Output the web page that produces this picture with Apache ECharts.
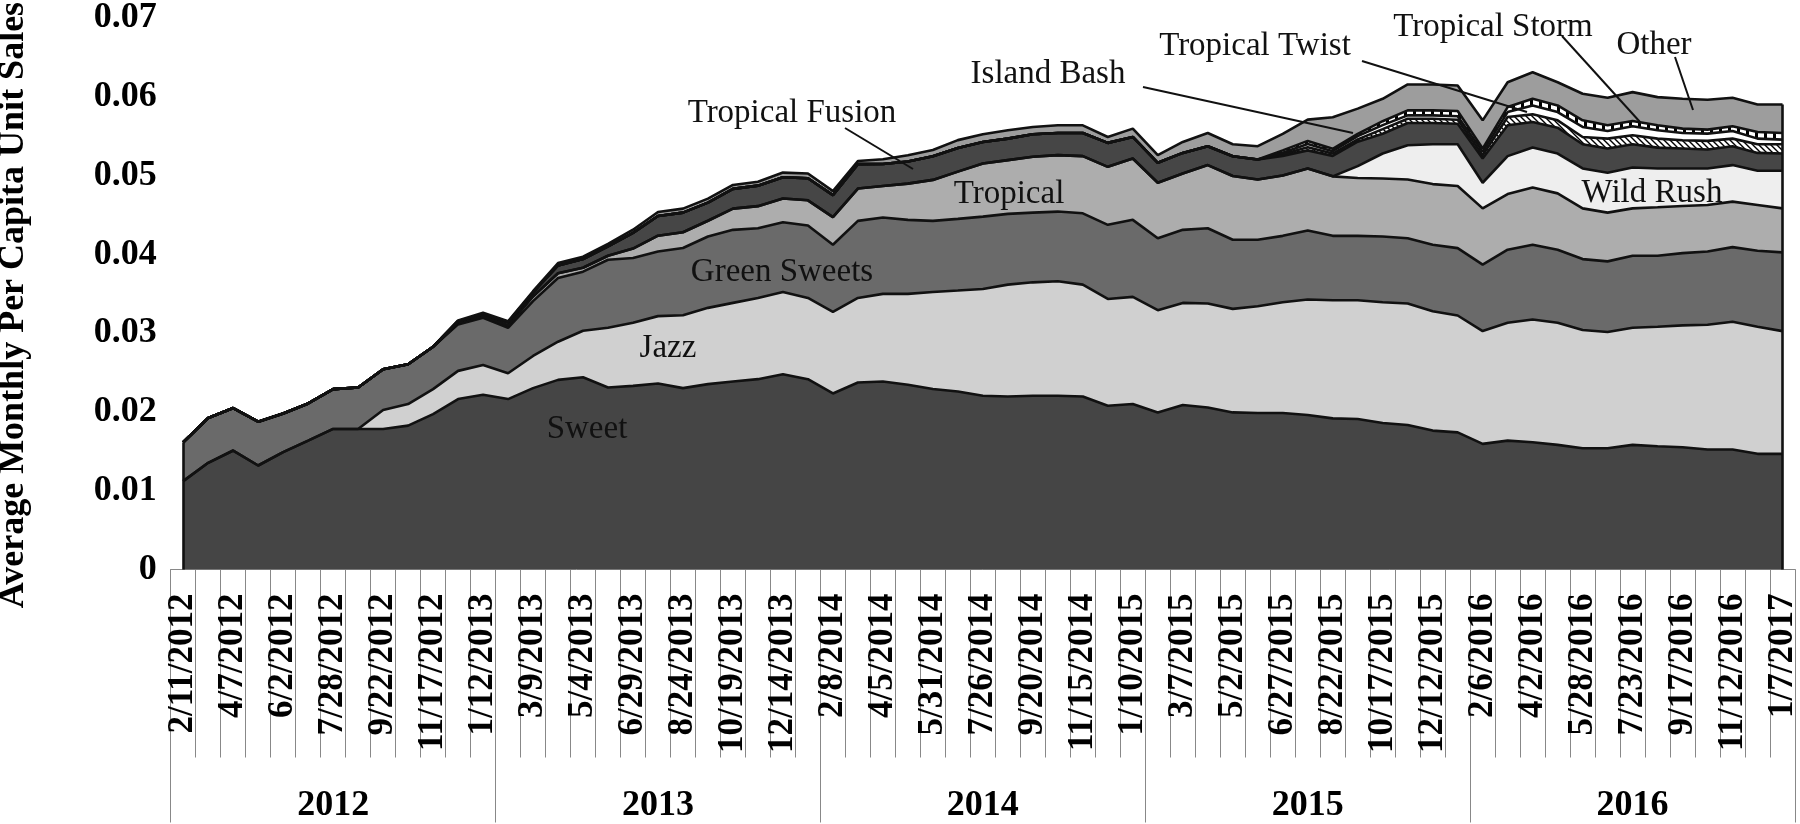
<!DOCTYPE html>
<html><head><meta charset="utf-8">
<script src="https://cdn.jsdelivr.net/npm/echarts@6/dist/echarts.min.js"></script>
<style>html,body{margin:0;padding:0;background:#fff}#c{width:1800px;height:824px}</style>
</head><body><div id="c"></div>
<script>
const dates = ['2/11/2012','3/10/2012','4/7/2012','5/5/2012','6/2/2012','6/30/2012','7/28/2012','8/25/2012','9/22/2012','10/20/2012',
'11/17/2012','12/15/2012','1/12/2013','2/9/2013','3/9/2013','4/6/2013','5/4/2013','6/1/2013','6/29/2013','7/27/2013',
'8/24/2013','9/21/2013','10/19/2013','11/16/2013','12/14/2013','1/11/2014','2/8/2014','3/8/2014','4/5/2014','5/3/2014',
'5/31/2014','6/28/2014','7/26/2014','8/23/2014','9/20/2014','10/18/2014','11/15/2014','12/13/2014','1/10/2015','2/7/2015',
'3/7/2015','4/4/2015','5/2/2015','5/30/2015','6/27/2015','7/25/2015','8/22/2015','9/19/2015','10/17/2015','11/14/2015',
'12/12/2015','1/9/2016','2/6/2016','3/5/2016','4/2/2016','4/30/2016','5/28/2016','6/25/2016','7/23/2016','8/20/2016',
'9/17/2016','10/15/2016','11/12/2016','12/10/2016','1/7/2017'];
const years = ['2012','2013','2014','2015','2016'];

const sweet = [.01122,.01354,.01510,.01320,.01489,.01636,.01784,.01784,.01784,.01826,
.01973,.02163,.02217,.02163,.02302,.02407,.02440,.02310,.02331,.02361,
.02302,.02353,.02386,.02416,.02479,.02416,.02234,.02373,.02386,.02344,
.02290,.02260,.02205,.02196,.02205,.02205,.02196,.02079,.02100,.01994,
.02087,.02057,.01994,.01986,.01986,.01961,.01918,.01910,.01860,.01835,
.01763,.01741,.01595,.01636,.01615,.01582,.01539,.01539,.01582,.01565,
.01552,.01523,.01523,.01468,.01468];
const jazz = [0,0,0,0,0,0,0,0,.00240,.00274,
.00317,.00358,.00380,.00328,.00408,.00484,.00590,.00758,.00800,.00855,
.00926,.00968,.00998,.01031,.01044,.01031,.01036,.01074,.01112,.01154,
.01233,.01281,.01356,.01420,.01440,.01453,.01420,.01355,.01360,.01298,
.01297,.01319,.01314,.01356,.01407,.01466,.01500,.01508,.01533,.01541,
.01516,.01483,.01431,.01495,.01559,.01549,.01500,.01475,.01486,.01516,
.01546,.01583,.01621,.01613,.01558];
const greenSweets = [.00493,.00569,.00539,.00556,.00492,.00472,.00506,.00526,.00518,.00505,
.00538,.00590,.00597,.00577,.00696,.00809,.00750,.00864,.00822,.00821,
.00852,.00906,.00927,.00885,.00885,.00919,.00852,.00978,.00969,.00940,
.00902,.00909,.00918,.00898,.00885,.00885,.00905,.00941,.00978,.00913,
.00927,.00956,.00877,.00843,.00842,.00876,.00817,.00817,.00834,.00829,
.00843,.00855,.00843,.00928,.00948,.00928,.00901,.00897,.00915,.00902,
.00918,.00931,.00948,.00965,.00999];
const tropical = [0,0,0,0,0,0,0,0,0,0,
0,.0002,.0002,.0003,.0006,.0006,.0005,.0005,.0012,.0020,
.0020,.0020,.0027,.0028,.0030,.0032,.0035,.0041,.0040,.0046,
.0052,.0060,.00674,.00682,.00708,.00716,.00726,.00736,.00778,.00704,
.00716,.00801,.00809,.00766,.00765,.00787,.00755,.00735,.00736,.00746,
.00770,.00788,.00715,.00707,.00728,.00715,.00644,.00619,.00601,.00614,
.00598,.00590,.00577,.00581,.00559];
const wildRush = [0,0,0,0,0,0,0,0,0,0,
0,0,0,0,0,0,0,0,0,0,
0,0,0,0,0,0,0,0,0,0,
0,0,0,0,0,0,0,0,0,0,
0,0,0,0,0,0,0,.0015,.00317,.00434,
.00506,.00531,.00325,.00481,.00505,.00506,.00506,.00505,.00518,.00493,
.00476,.00463,.00464,.00434,.00477];
const tropicalFusion = [0,0,0,0,0,0,0,0,0,0,
0,.0002,.0003,.0004,.0005,.0010,.0011,.0012,.0020,.0025,
.0025,.0023,.0025,.0026,.0027,.0028,.0028,.0031,.0028,.0028,
.0030,.0030,.00274,.00273,.00286,.00282,.00294,.00304,.00274,.00253,
.00261,.00240,.00252,.00253,.0025,.0023,.0026,.0031,.0025,.00282,
.00269,.00260,.00307,.00391,.00325,.00328,.00308,.00308,.00296,.00265,
.00253,.00240,.00240,.00227,.00219];
const islandBash = [0,0,0,0,0,0,0,0,0,0,
0,0,0,0,0,0,0,0,0,0,
0,0,0,0,0,0,0,0,0,0,
0,0,0,0,0,0,0,0,0,0,
0,0,0,0,.0002,.0004,.0003,.0003,.0006,.00055,
.00055,.00051,.00043,.00105,.00097,.00093,.00092,.00126,.00113,.00114,
.00105,.00110,.00096,.00110,.00118];
const tropicalTwist = [0,0,0,0,0,0,0,0,0,0,
0,0,0,0,0,0,0,0,0,0,
0,0,0,0,0,0,0,0,0,0,
0,0,0,0,0,0,0,0,0,0,
0,0,0,0,.0002,.0004,.0003,.0004,.0005,.00042,
.00042,.00043,.00042,.00063,.00113,.00105,.00127,.00097,.00115,.00106,
.00093,.00092,.00097,.00071,.00058];
const tropicalStorm = [0,0,0,0,0,0,0,0,0,0,
0,0,0,0,0,0,0,0,0,0,
0,0,0,0,0,0,0,0,0,0,
0,0,0,0,0,0,0,0,0,0,
0,0,0,0,.0003,.0004,.0003,.0003,.0005,.00063,
.00063,.00067,.00042,.00063,.00084,.00084,.00084,.00072,.00066,.00063,
.00055,.00051,.00060,.00084,.00085];
const other = [0,0,0,0,0,0,0,0,0,0,
0,.0001,.00016,.00012,.00016,.0003,.0003,.0003,.0004,.0005,
.0005,.0005,.0005,.0005,.0006,.0006,.0005,.0004,.0006,.0008,
.0008,.0010,.00097,.00106,.00093,.00097,.00097,.00075,.00106,.00097,
.00139,.00168,.00152,.00169,.0021,.0027,.0040,.0032,.00285,.00329,
.00329,.00325,.00358,.00316,.00338,.00295,.00337,.00349,.00367,.00358,
.00379,.00379,.00361,.00350,.00362];

const FONT = "'Liberation Serif','Times New Roman',serif";

function makePattern(kind){
  const c = document.createElement('canvas');
  const ctx = c.getContext('2d');
  if (kind === 'hatch') {
    c.width = 6; c.height = 6;
    ctx.fillStyle = '#fff'; ctx.fillRect(0,0,6,6);
    ctx.strokeStyle = '#000'; ctx.lineWidth = 1.4;
    ctx.beginPath(); ctx.moveTo(-1,-1); ctx.lineTo(7,7);
    ctx.moveTo(-1,5); ctx.lineTo(1,7); ctx.moveTo(5,-1); ctx.lineTo(7,1); ctx.stroke();
  } else {
    c.width = 9; c.height = 4;
    ctx.fillStyle = '#fff'; ctx.fillRect(0,0,9,4);
    ctx.fillStyle = '#000'; ctx.fillRect(0,0,3,4);
  }
  return {image: c, repeat: 'repeat'};
}

const layers = [
  ['Sweet', sweet, '#454545'],
  ['Jazz', jazz, '#d0d0d0'],
  ['Green Sweets', greenSweets, '#6a6a6a'],
  ['Tropical', tropical, '#adadad'],
  ['Wild Rush', wildRush, '#eeeeee'],
  ['Tropical Fusion', tropicalFusion, '#464646'],
  ['Island Bash', islandBash, makePattern('hatch')],
  ['Tropical Twist', tropicalTwist, '#ffffff'],
  ['Tropical Storm', tropicalStorm, makePattern('check')],
  ['Other', other, '#9d9d9d']
];

const totals = dates.map((d,i) => layers.reduce((s,l) => s + l[1][i], 0));
const last = dates.length - 1;

const series = [];
layers.forEach(l => {
  series.push({
    name: l[0], type: 'line', stack: 'area', data: l[1], symbol: 'none',
    lineStyle: {width: 0, opacity: 0}, areaStyle: {color: l[2], opacity: 1},
    z: 2, silent: true, animation: false
  });
});
layers.forEach((l, k) => {
  const s = {
    name: l[0] + ' border', type: 'line', stack: 'lines', data: l[1], symbol: 'none',
    lineStyle: {width: 2.6, color: '#111'}, z: 4, silent: true, animation: false
  };
  if (k === layers.length - 1) {
    s.markLine = {
      symbol: 'none', silent: true, animation: false,
      label: {show: false},
      lineStyle: {type: 'solid', color: '#111', width: 2.6},
      data: [
        [{coord: [dates[0], 0]}, {coord: [dates[0], totals[0]]}],
        [{coord: [dates[last], 0]}, {coord: [dates[last], totals[last]]}]
      ]
    };
  }
  series.push(s);
});

const txt = (t, x, y, opts) => Object.assign({
  type: 'text', x: x, y: y, silent: true, z: 100, zlevel: 1,
  style: {text: t, font: "33px " + FONT, fill: '#111', align: 'center', verticalAlign: 'middle'}
}, opts || {});
const seg = (x1, y1, x2, y2) => ({
  type: 'line', silent: true, shape: {x1, y1, x2, y2}, zlevel: 1,
  style: {stroke: '#111', lineWidth: 2}, z: 100
});

const chart = echarts.init(document.getElementById('c'), null, {renderer: 'canvas'});
chart.setOption({
  animation: false,
  backgroundColor: '#fff',
  grid: {left: 170.7, right: 1, top: 15.5, bottom: 254.5, containLabel: false},
  xAxis: [{
    type: 'category', data: dates, boundaryGap: true, position: 'bottom', offset: 0,
    axisLine: {show: true, lineStyle: {color: '#888', width: 1}},
    axisTick: {show: true, interval: 0, length: 188, lineStyle: {color: '#888', width: 1}},
    axisLabel: {interval: 1, rotate: 90, margin: 24, color: '#000',
      fontFamily: FONT, fontWeight: 'bold', fontSize: 35}
  }, {
    type: 'category', data: years, boundaryGap: true, position: 'bottom', offset: 0,
    axisLine: {show: false},
    axisTick: {show: true, interval: 0, length: 253, lineStyle: {color: '#888', width: 1}},
    axisLabel: {interval: 0, margin: 218, color: '#000',
      fontFamily: FONT, fontWeight: 'bold', fontSize: 36}
  }],
  yAxis: {
    type: 'value', min: 0, max: 0.07, interval: 0.01,
    axisLine: {show: false}, axisTick: {show: false}, splitLine: {show: false},
    axisLabel: {margin: 14, color: '#000', fontFamily: FONT, fontWeight: 'bold', fontSize: 36,
      formatter: v => v === 0 ? '0' : v.toFixed(2)}
  },
  series: series,
  graphic: [
    txt('Average Monthly Per Capita Unit Sales', 14, 305,
      {rotation: Math.PI / 2, style: {text: 'Average Monthly Per Capita Unit Sales',
        font: "bold 36px " + FONT, fill: '#000', align: 'center', verticalAlign: 'middle'}}),
    txt('Sweet', 587, 429),
    txt('Jazz', 668, 348),
    txt('Green Sweets', 782, 272),
    txt('Tropical', 1009, 194),
    txt('Tropical Fusion', 792, 113),
    txt('Island Bash', 1048, 74),
    txt('Tropical Twist', 1255, 46),
    txt('Tropical Storm', 1493, 27),
    txt('Other', 1654, 45),
    txt('Wild Rush', 1652, 193),
    seg(845, 128, 913, 169),
    seg(1143, 87, 1353, 133),
    seg(1362, 61, 1527, 112),
    seg(1562, 36, 1640, 122),
    seg(1675, 57, 1693, 110)
  ]
});
</script>
</body></html>
